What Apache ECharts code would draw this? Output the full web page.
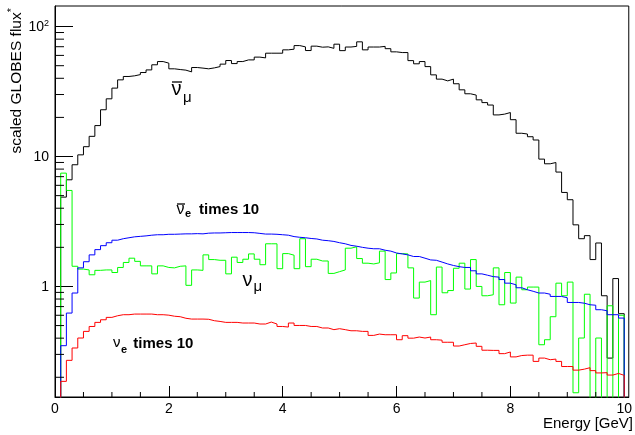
<!DOCTYPE html>
<html>
<head>
<meta charset="utf-8">
<script src="https://cdn.jsdelivr.net/npm/echarts@6/dist/echarts.min.js"></script>
<style>
  html, body { margin: 0; padding: 0; background: #fff; }
  #chart { width: 635px; height: 435px; }
</style>
</head>
<body>
<div id="chart"></div>
<script>
// Flux histograms, 100 bins of 0.1 GeV from 0 to 10 GeV.
const binWidth = 0.1;

// anti-nu_mu flux
const antiNuMu = [
  0, 4.87, 6.62, 8.64, 10.3, 11.9, 14.3, 17.3, 22.9, 27.8,
  33.6, 38.9, 41.3, 41.8, 42.7, 44.3, 46.4, 50.8, 53.8, 52.3,
  47.3, 46.7, 46.2, 44.8, 48.4, 47.9, 47.3, 48.1, 49.2, 51.4,
  54.8, 51.9, 53.8, 55.4, 55.4, 58.2, 57.4, 62.4, 62.4, 62.4,
  66.2, 67.0, 71.4, 69.8, 65.4, 70.7, 69.4, 69.8, 68.0, 73.2,
  65.3, 69.6, 70.4, 76.3, 66.2, 69.6, 69.6, 70.4, 67.6, 63.9,
  63.1, 63.1, 54.7, 51.7, 53.8, 49.2, 42.5, 39.4, 38.2, 39.4,
  36.3, 32.6, 30.4, 29.7, 27.3, 26.0, 24.9, 20.9, 21.2, 21.8,
  19.2, 15.1, 14.9, 14.2, 13.4, 9.55, 8.79, 8.99, 7.59, 5.29,
  4.65, 2.98, 2.33, 2.46, 1.61, 2.16, 0.848, 0.281, 1.15, 0.617
];

// nu_mu flux
const nuMu = [
  0, 7.45, 5.48, 1.43, 1.36, 1.34, 1.23, 1.33, 1.34, 1.34,
  1.28, 1.40, 1.53, 1.65, 1.56, 1.44, 1.44, 1.25, 1.44, 1.40,
  1.39, 1.43, 1.44, 1.02, 1.34, 1.33, 1.75, 1.61, 1.59, 1.59,
  1.25, 1.68, 1.53, 1.62, 1.78, 1.62, 1.47, 2.13, 2.13, 1.37,
  1.79, 1.74, 1.37, 2.33, 1.42, 1.62, 1.57, 1.57, 1.26, 1.30,
  1.34, 1.97, 2.02, 1.64, 1.51, 1.49, 1.52, 1.87, 1.13, 1.27,
  1.79, 1.78, 1.39, 0.814, 1.08, 1.11, 0.606, 1.41, 0.894, 0.930,
  1.38, 1.51, 0.955, 1.61, 1.00, 0.848, 0.863, 1.39, 0.723, 1.28,
  0.745, 1.18, 0.943, 0.989, 0.989, 0.356, 0.389, 0.585, 1.06, 0.848,
  1.08, 0.152, 0.401, 0.871, 0, 0.401, 0, 0.710, 0, 0.60
];

// anti-nu_e flux, times 10
const antiNuE10 = [
  0, 0.350, 0.624, 0.890, 1.39, 1.55, 1.75, 1.92, 2.06, 2.17,
  2.27, 2.33, 2.37, 2.41, 2.43, 2.45, 2.48, 2.50, 2.50, 2.52,
  2.52, 2.53, 2.54, 2.54, 2.55, 2.54, 2.57, 2.58, 2.58, 2.59,
  2.60, 2.60, 2.60, 2.60, 2.59, 2.56, 2.53, 2.53, 2.52, 2.50,
  2.48, 2.42, 2.39, 2.37, 2.34, 2.32, 2.27, 2.25, 2.22, 2.17,
  2.13, 2.07, 2.04, 2.00, 1.97, 1.95, 1.95, 1.90, 1.87, 1.81,
  1.78, 1.75, 1.70, 1.70, 1.65, 1.60, 1.59, 1.54, 1.49, 1.45,
  1.42, 1.40, 1.40, 1.32, 1.25, 1.22, 1.19, 1.18, 1.13, 1.06,
  1.03, 0.977, 0.943, 0.918, 0.890, 0.890, 0.871, 0.838, 0.838, 0.819,
  0.753, 0.753, 0.743, 0.723, 0.717, 0.662, 0.650, 0.606, 0.606, 0.571
];

// nu_e flux, times 10
const nuE10 = [
  0, 0.186, 0.270, 0.336, 0.401, 0.451, 0.492, 0.529, 0.554, 0.578,
  0.595, 0.606, 0.606, 0.613, 0.613, 0.613, 0.613, 0.606, 0.606, 0.601,
  0.590, 0.585, 0.569, 0.561, 0.561, 0.561, 0.559, 0.545, 0.538, 0.529,
  0.529, 0.529, 0.523, 0.523, 0.523, 0.514, 0.514, 0.532, 0.514, 0.492,
  0.487, 0.523, 0.501, 0.501, 0.492, 0.492, 0.479, 0.479, 0.465, 0.473,
  0.465, 0.456, 0.456, 0.451, 0.451, 0.420, 0.430, 0.425, 0.425, 0.425,
  0.389, 0.418, 0.400, 0.408, 0.401, 0.408, 0.389, 0.386, 0.372, 0.372,
  0.348, 0.356, 0.364, 0.367, 0.346, 0.323, 0.322, 0.322, 0.304, 0.313,
  0.287, 0.294, 0.296, 0.296, 0.265, 0.281, 0.273, 0.276, 0.265, 0.242,
  0.242, 0.227, 0.231, 0.237, 0.225, 0.216, 0.217, 0.208, 0.214, 0.207
];

// Axis ticks
const xMinorTicks = [0.5, 1, 1.5, 2.5, 3, 3.5, 4.5, 5, 5.5, 6.5, 7, 7.5, 8.5, 9, 9.5];
const yMinorTicks = [0.2, 0.3, 0.4, 0.5, 0.6, 0.7, 0.8, 0.9,
                     2, 3, 4, 5, 6, 7, 8, 9,
                     20, 30, 40, 50, 60, 70, 80, 90];

const X_MIN = 0, X_MAX = 10.08;
const Y_MIN = 0.141, Y_MAX = 144;
const FLOOR = 0.01;          // empty bins drop below the frame and get clipped
const FONT = 'Liberation Sans, Arial, Helvetica, sans-serif';

// Bin contents -> step outline: each bin starts at its lower edge,
// the last bin is closed at the upper edge and dropped to the floor.
function histogram(values) {
  const pts = values.map((v, i) => [+(i * binWidth).toFixed(2), v > 0 ? v : FLOOR]);
  const upper = +(values.length * binWidth).toFixed(2);
  pts.push([upper, pts[pts.length - 1][1]]);
  pts.push([upper, FLOOR]);
  return pts;
}

function histSeries(name, values, color, z) {
  return {
    name: name,
    type: 'line',
    step: 'end',
    data: histogram(values),
    showSymbol: false,
    symbol: 'none',
    clip: true,
    silent: true,
    animation: false,
    z: z,
    lineStyle: { color: color, width: 1 },
    itemStyle: { color: color }
  };
}

// Short tick marks drawn inward from the left (y) or bottom (x) axis.
function tickSeries(points, dir, len) {
  return {
    type: 'custom',
    silent: true,
    animation: false,
    clip: false,
    z: 20,
    data: points,
    renderItem: function (params, api) {
      const p = api.coord([api.value(0), api.value(1)]);
      const shape = dir === 'y'
        ? { x1: p[0], y1: p[1], x2: p[0] + len, y2: p[1] }
        : { x1: p[0], y1: p[1], x2: p[0], y2: p[1] - len };
      return { type: 'line', shape: shape, style: { stroke: '#000', lineWidth: 1 } };
    }
  };
}

// Bar drawn over a neutrino symbol to mark the antiparticle.
function overbar(x1, x2, y) {
  return {
    type: 'line', silent: true,
    shape: { x1: x1, y1: y, x2: x2, y2: y },
    style: { stroke: '#000', lineWidth: 1.3 }
  };
}

const chart = echarts.init(document.getElementById('chart'), null, { renderer: 'canvas' });

chart.setOption({
  animation: false,
  backgroundColor: '#fff',
  grid: {
    left: 55, top: 6, width: 578, height: 391,
    show: true, borderColor: '#000', borderWidth: 1, backgroundColor: 'transparent'
  },
  xAxis: {
    type: 'value',
    min: X_MIN, max: X_MAX, interval: 2,
    axisLine: { show: true, lineStyle: { color: '#000', width: 1 } },
    axisTick: { show: true, inside: true, length: 11, lineStyle: { color: '#000' } },
    minorTick: { show: false },
    splitLine: { show: false },
    axisLabel: {
      margin: 5, fontSize: 14, fontFamily: FONT, color: '#000',
      showMaxLabel: false,
      formatter: function (v) { return String(v); }
    }
  },
  yAxis: {
    type: 'log',
    logBase: 10,
    min: Y_MIN, max: Y_MAX,
    axisLine: { show: true, lineStyle: { color: '#000', width: 1 } },
    axisTick: { show: true, inside: true, length: 18, lineStyle: { color: '#000' } },
    minorTick: { show: false },
    splitLine: { show: false },
    axisLabel: {
      margin: 6, fontSize: 14, fontFamily: FONT, color: '#000',
      showMinLabel: false, showMaxLabel: false,
      formatter: function (v) {
        const r = Math.round(v);
        if (r === 100) return '{b|10}{s|2}';
        return '{b|' + r + '}';
      },
      rich: {
        b: { fontSize: 14, fontFamily: FONT, color: '#000', lineHeight: 16, verticalAlign: 'bottom' },
        s: { fontSize: 9, fontFamily: FONT, color: '#000', lineHeight: 9, verticalAlign: 'top' }
      }
    }
  },
  series: [
    histSeries('anti-nu_mu', antiNuMu, '#000000', 2),
    histSeries('nu_mu', nuMu, '#00ff00', 3),
    histSeries('anti-nu_e x10', antiNuE10, '#0000ff', 4),
    histSeries('nu_e x10', nuE10, '#ff0000', 5),
    tickSeries(yMinorTicks.map(v => [X_MIN, v]), 'y', 9),
    tickSeries(xMinorTicks.map(v => [v, Y_MIN]), 'x', 5)
  ],
  graphic: [
    // y-axis title
    {
      type: 'text', x: 15.5, y: 8, rotation: Math.PI / 2, silent: true,
      style: {
        text: '{t|scaled GLOBES flux}{s|*}',
        align: 'right', verticalAlign: 'middle', fill: '#000',
        rich: {
          t: { fontSize: 15.5, fontFamily: FONT, fill: '#000', lineHeight: 19, verticalAlign: 'bottom' },
          s: { fontSize: 11, fontFamily: FONT, fill: '#000', lineHeight: 11, verticalAlign: 'top' }
        }
      }
    },
    // x-axis title
    {
      type: 'text', x: 633, y: 424, silent: true,
      style: {
        text: 'Energy [GeV]', fontSize: 15, fontFamily: FONT, fill: '#000',
        align: 'right', verticalAlign: 'middle'
      }
    },
    // anti-nu_mu
    {
      type: 'text', x: 171.5, y: 79.5, silent: true,
      style: {
        text: '{nu|\u03BD}{sub|\u03BC}',
        align: 'left', verticalAlign: 'top', fill: '#000',
        rich: {
          nu: { fontSize: 20, fontFamily: FONT, fill: '#000', lineHeight: 20, verticalAlign: 'top' },
          sub: { fontSize: 15, fontFamily: FONT, fill: '#000', lineHeight: 15, verticalAlign: 'top', padding: [11, 0, 0, 1.5] }
        }
      }
    },
    overbar(172, 182, 82),
    // anti-nu_e times 10
    {
      type: 'text', x: 176.5, y: 201.4, silent: true,
      style: {
        text: '{nu|\u03BD}{sub|e}{b|times 10}',
        align: 'left', verticalAlign: 'top', fill: '#000',
        rich: {
          nu: { fontSize: 16, fontFamily: FONT, fill: '#000', lineHeight: 16, verticalAlign: 'top' },
          sub: { fontSize: 11, fontFamily: FONT, fontWeight: 'bold', fill: '#000', lineHeight: 11, verticalAlign: 'top', padding: [7.3, 0, 0, 0.5] },
          b: { fontSize: 15, fontFamily: FONT, fontWeight: 'bold', fill: '#000', lineHeight: 15, verticalAlign: 'top', padding: [1, 0, 0, 8] }
        }
      }
    },
    overbar(177, 185, 204),
    // nu_mu
    {
      type: 'text', x: 242.5, y: 270, silent: true,
      style: {
        text: '{nu|\u03BD}{sub|\u03BC}',
        align: 'left', verticalAlign: 'top', fill: '#000',
        rich: {
          nu: { fontSize: 20, fontFamily: FONT, fill: '#000', lineHeight: 20, verticalAlign: 'top' },
          sub: { fontSize: 15, fontFamily: FONT, fill: '#000', lineHeight: 15, verticalAlign: 'top', padding: [9.3, 0, 0, 1] }
        }
      }
    },
    // nu_e times 10
    {
      type: 'text', x: 113, y: 335.8, silent: true,
      style: {
        text: '{nu|\u03BD}{sub|e}{b|times 10}',
        align: 'left', verticalAlign: 'top', fill: '#000',
        rich: {
          nu: { fontSize: 15, fontFamily: FONT, fill: '#000', lineHeight: 15, verticalAlign: 'top' },
          sub: { fontSize: 11, fontFamily: FONT, fontWeight: 'bold', fill: '#000', lineHeight: 11, verticalAlign: 'top', padding: [9, 0, 0, 0.5] },
          b: { fontSize: 15, fontFamily: FONT, fontWeight: 'bold', fill: '#000', lineHeight: 15, verticalAlign: 'top', padding: [1, 0, 0, 6.2] }
        }
      }
    }
  ]
});
</script>
</body>
</html>
